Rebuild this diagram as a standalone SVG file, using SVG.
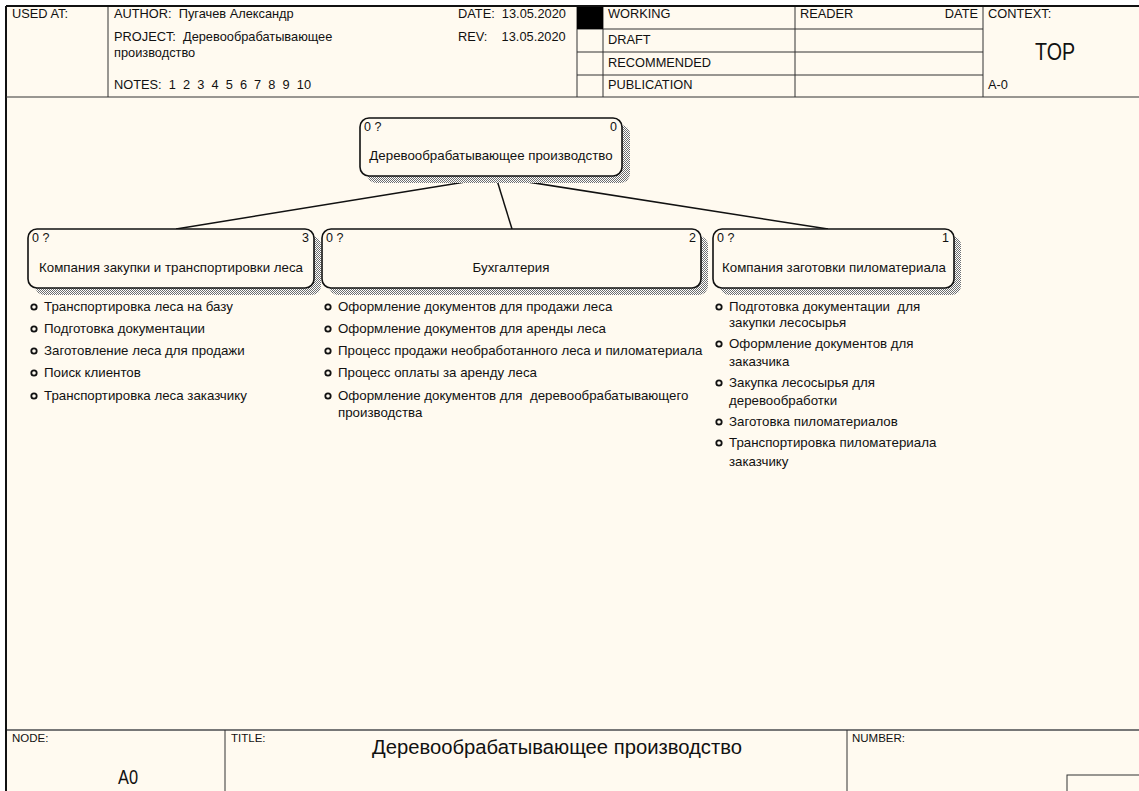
<svg xmlns="http://www.w3.org/2000/svg" width="1139" height="791" viewBox="0 0 1139 791">
  <defs>
    <!-- dithered drop shadow used under activity boxes -->
    <pattern id="hatch" width="2" height="2" patternUnits="userSpaceOnUse">
      <rect width="2" height="2" fill="#ffffff"/>
      <rect width="1" height="1" fill="#6e6e6e"/>
      <rect x="1" y="1" width="1" height="1" fill="#6e6e6e"/>
    </pattern>
    <style>
      text { font-family: "Liberation Sans", Arial, sans-serif; fill: #111; white-space: pre; }
      .hdr { font-size: 12.8px; }
      .small { font-size: 11.5px; }
      .frame { fill: none; stroke: #111; stroke-width: 2; }
      .grid { stroke: #333; stroke-width: 1; fill: none; }
      .sep { stroke: #777; stroke-width: 2; }
      .box { fill: #fffaf0; stroke: #111; stroke-width: 1.6; }
      .shadow { fill: url(#hatch); }
      .lbl { font-size: 13.3px; text-anchor: middle; }
      .num { font-size: 12.5px; }
      .item { font-size: 13.3px; }
      .dot { fill: none; stroke: #111; stroke-width: 1.8; }
      .conn { stroke: #111; stroke-width: 1.5; fill: none; }
    </style>
  </defs>

  <!-- page background -->
  <rect x="0" y="0" width="1139" height="791" fill="#ffffff"/>
  <rect x="6" y="6" width="1140" height="800" fill="#fffaf0"/>

  <!-- header block -->
  <g id="header">
    <line class="grid" x1="108" y1="6" x2="108" y2="97"/>
    <line class="grid" x1="577" y1="6" x2="577" y2="97"/>
    <line class="grid" x1="603" y1="6" x2="603" y2="97"/>
    <line class="grid" x1="795" y1="6" x2="795" y2="97"/>
    <line class="grid" x1="983" y1="6" x2="983" y2="97"/>
    <line class="grid" x1="577" y1="29" x2="983" y2="29"/>
    <line class="grid" x1="577" y1="52" x2="983" y2="52"/>
    <line class="grid" x1="577" y1="75" x2="983" y2="75"/>
    <rect x="577" y="6" width="26" height="23" fill="#000"/>

    <text class="hdr" x="12" y="18">USED AT:</text>
    <text class="hdr" x="114" y="18">AUTHOR:  Пугачев Александр</text>
    <text class="hdr" x="114" y="41">PROJECT:  Деревообрабатывающее</text>
    <text class="hdr" x="114" y="57">производство</text>
    <text class="hdr" x="114" y="89">NOTES:  1  2  3  4  5  6  7  8  9  10</text>
    <text class="hdr" x="458" y="18">DATE:  13.05.2020</text>
    <text class="hdr" x="458" y="41">REV:    13.05.2020</text>

    <text class="hdr" x="608" y="18">WORKING</text>
    <text class="hdr" x="608" y="44">DRAFT</text>
    <text class="hdr" x="608" y="67">RECOMMENDED</text>
    <text class="hdr" x="608" y="89">PUBLICATION</text>
    <text class="hdr" x="800" y="18">READER</text>
    <text class="hdr" x="978" y="18" text-anchor="end">DATE</text>
    <text class="hdr" x="988" y="18">CONTEXT:</text>
    <text x="1035" y="60" font-size="24" textLength="40" lengthAdjust="spacingAndGlyphs">TOP</text>
    <text class="hdr" x="988" y="89">A-0</text>
  </g>

  <!-- footer block -->
  <g id="footer">
    <line class="sep" x1="6" y1="730" x2="1139" y2="730"/>
    <line class="grid" x1="225" y1="730" x2="225" y2="791"/>
    <line class="grid" x1="847" y1="730" x2="847" y2="791"/>
    <rect class="grid" x="1067" y="775" width="80" height="30"/>
    <text class="small" x="12" y="742">NODE:</text>
    <text x="118" y="784" font-size="20" textLength="20" lengthAdjust="spacingAndGlyphs">A0</text>
    <text class="small" x="231" y="742">TITLE:</text>
    <text x="372" y="754" font-size="20.5" textLength="370" lengthAdjust="spacingAndGlyphs">Деревообрабатывающее производство</text>
    <text class="small" x="852" y="742">NUMBER:</text>
  </g>

  <!-- outer frame -->
  <line class="frame" x1="6" y1="6" x2="1139" y2="6"/>
  <line class="frame" x1="6" y1="6" x2="6" y2="791"/>
  <line class="grid" x1="6" y1="97" x2="1139" y2="97" stroke-width="2"/>

  <!-- decomposition connectors -->
  <g id="connectors">
    <line class="conn" x1="496" y1="177" x2="176" y2="229"/>
    <line class="conn" x1="496" y1="177" x2="512" y2="229"/>
    <line class="conn" x1="496" y1="177" x2="828" y2="229"/>
  </g>

  <!-- parent activity -->
  <g id="node-0">
    <rect class="shadow" x="367" y="125" width="263" height="58" rx="9"/>
    <rect class="box" x="360" y="118" width="262" height="58" rx="9"/>
    <text class="num" x="364" y="131">0 ?</text>
    <text class="num" x="617" y="131" text-anchor="end">0</text>
    <text class="lbl" x="491" y="160">Деревообрабатывающее производство</text>
  </g>

  <!-- child activity 3 -->
  <g id="node-3">
    <rect class="shadow" x="35" y="236" width="286" height="59" rx="9"/>
    <rect class="box" x="28" y="229" width="286" height="59" rx="9"/>
    <text class="num" x="32" y="242">0 ?</text>
    <text class="num" x="309" y="242" text-anchor="end">3</text>
    <text class="lbl" x="171" y="272">Компания закупки и транспортировки леса</text>
  </g>

  <!-- child activity 2 -->
  <g id="node-2">
    <rect class="shadow" x="329" y="236" width="379" height="59" rx="9"/>
    <rect class="box" x="322" y="229" width="379" height="59" rx="9"/>
    <text class="num" x="326" y="242">0 ?</text>
    <text class="num" x="696" y="242" text-anchor="end">2</text>
    <text class="lbl" x="511" y="272">Бухгалтерия</text>
  </g>

  <!-- child activity 1 -->
  <g id="node-1">
    <rect class="shadow" x="720" y="236" width="241" height="59" rx="9"/>
    <rect class="box" x="713" y="229" width="241" height="59" rx="9"/>
    <text class="num" x="717" y="242">0 ?</text>
    <text class="num" x="949" y="242" text-anchor="end">1</text>
    <text class="lbl" x="834" y="272">Компания заготовки пиломатериала</text>
  </g>

  <!-- sub-process lists -->
  <g id="list-3">
    <circle class="dot" cx="34" cy="307" r="2.7"/>
    <text class="item" x="44" y="311">Транспортировка леса на базу</text>
    <circle class="dot" cx="34" cy="329" r="2.7"/>
    <text class="item" x="44" y="333">Подготовка документации</text>
    <circle class="dot" cx="34" cy="351" r="2.7"/>
    <text class="item" x="44" y="355">Заготовление леса для продажи</text>
    <circle class="dot" cx="34" cy="373" r="2.7"/>
    <text class="item" x="44" y="377">Поиск клиентов</text>
    <circle class="dot" cx="34" cy="396" r="2.7"/>
    <text class="item" x="44" y="400">Транспортировка леса заказчику</text>
  </g>

  <g id="list-2">
    <circle class="dot" cx="328" cy="307" r="2.7"/>
    <text class="item" x="338" y="311">Оформление документов для продажи леса</text>
    <circle class="dot" cx="328" cy="329" r="2.7"/>
    <text class="item" x="338" y="333">Оформление документов для аренды леса</text>
    <circle class="dot" cx="328" cy="351" r="2.7"/>
    <text class="item" x="338" y="355">Процесс продажи необработанного леса и пиломатериала</text>
    <circle class="dot" cx="328" cy="373" r="2.7"/>
    <text class="item" x="338" y="377">Процесс оплаты за аренду леса</text>
    <circle class="dot" cx="328" cy="396" r="2.7"/>
    <text class="item" x="338" y="400">Оформление документов для  деревообрабатывающего</text>
    <text class="item" x="338" y="417">производства</text>
  </g>

  <g id="list-1">
    <circle class="dot" cx="719" cy="307" r="2.7"/>
    <text class="item" x="729" y="311">Подготовка документации  для</text>
    <text class="item" x="729" y="327">закупки лесосырья</text>
    <circle class="dot" cx="719" cy="344" r="2.7"/>
    <text class="item" x="729" y="348">Оформление документов для</text>
    <text class="item" x="729" y="366">заказчика</text>
    <circle class="dot" cx="719" cy="383" r="2.7"/>
    <text class="item" x="729" y="387">Закупка лесосырья для</text>
    <text class="item" x="729" y="405">деревообработки</text>
    <circle class="dot" cx="719" cy="422" r="2.7"/>
    <text class="item" x="729" y="426">Заготовка пиломатериалов</text>
    <circle class="dot" cx="719" cy="443" r="2.7"/>
    <text class="item" x="729" y="447">Транспортировка пиломатериала</text>
    <text class="item" x="729" y="466">заказчику</text>
  </g>
</svg>
